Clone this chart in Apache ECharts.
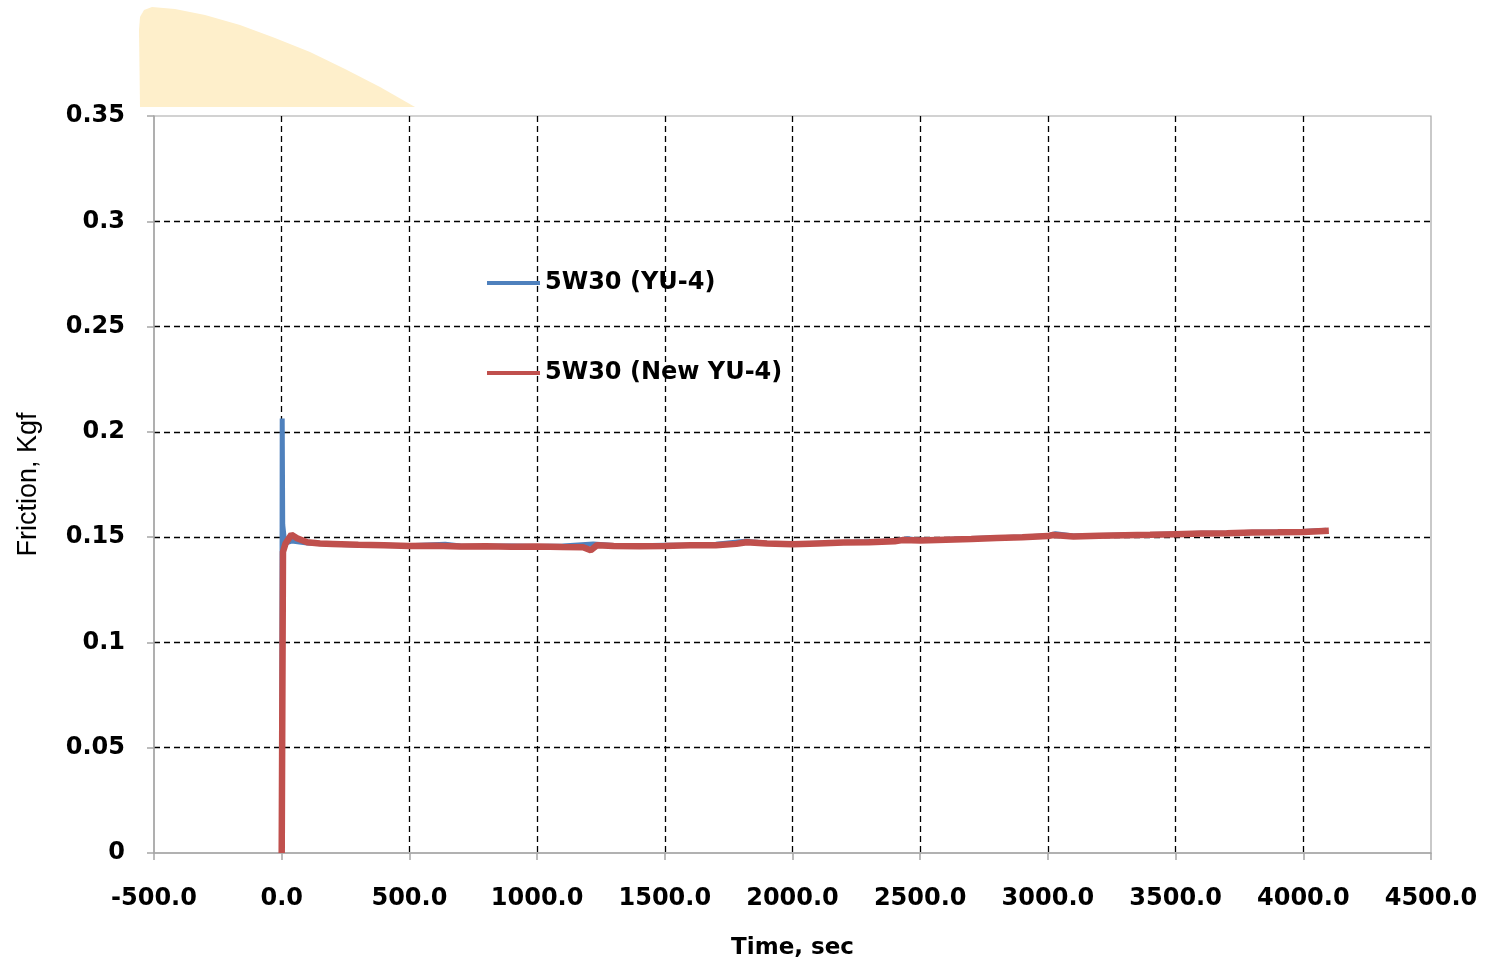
<!DOCTYPE html>
<html>
<head>
<meta charset="utf-8">
<script src="https://cdn.jsdelivr.net/npm/echarts@6/dist/echarts.min.js"></script>
<style>
  html, body { margin: 0; padding: 0; background: #ffffff; }
  #chart { width: 1486px; height: 962px; }
</style>
</head>
<body>
<div id="chart"></div>
<script>
// ---- data ----
const seriesNames = ['5W30 (YU-4)', '5W30 (New YU-4)'];

const blueTime = [0, 2, 4, 12, 40, 100, 200, 300, 400, 500, 640, 700, 800, 900, 1000, 1100, 1220, 1300, 1400, 1500, 1600, 1700, 1815, 1900, 2000, 2100, 2200, 2300, 2400, 2450, 2500, 2600, 2700, 2800, 2900, 3000, 3030, 3100, 3200, 3300, 3400, 3500, 3600, 3700, 3800, 3900, 4000, 4090];
const blueFriction = [0, 0.2063, 0.1560, 0.1470, 0.1482, 0.1472, 0.1466, 0.1463, 0.1461, 0.1459, 0.1466, 0.1458, 0.1457, 0.1458, 0.1456, 0.1458, 0.1468, 0.1460, 0.1459, 0.1461, 0.1463, 0.1466, 0.1480, 0.1471, 0.1468, 0.1471, 0.1474, 0.1478, 0.1482, 0.1492, 0.1485, 0.1489, 0.1493, 0.1497, 0.1501, 0.1507, 0.1516, 0.1505, 0.1508, 0.1510, 0.1512, 0.1515, 0.1518, 0.1520, 0.1523, 0.1525, 0.1527, 0.1533];

const redTime = [0, 5, 15, 38, 60, 100, 150, 200, 300, 400, 500, 600, 700, 800, 900, 1000, 1100, 1180, 1210, 1235, 1300, 1400, 1500, 1600, 1700, 1780, 1820, 1900, 2000, 2100, 2200, 2300, 2400, 2430, 2500, 2600, 2700, 2800, 2900, 3000, 3020, 3100, 3200, 3300, 3400, 3500, 3600, 3700, 3800, 3900, 4000, 4100];
const redFriction = [0, 0.1430, 0.1470, 0.1512, 0.1495, 0.1476, 0.1470, 0.1468, 0.1464, 0.1461, 0.1458, 0.1459, 0.1455, 0.1457, 0.1454, 0.1455, 0.1453, 0.1452, 0.1438, 0.1462, 0.1458, 0.1457, 0.1458, 0.1461, 0.1462, 0.1468, 0.1476, 0.1470, 0.1466, 0.1470, 0.1474, 0.1476, 0.1480, 0.1486, 0.1484, 0.1488, 0.1491, 0.1496, 0.1499, 0.1505, 0.1510, 0.1503, 0.1507, 0.1509, 0.1511, 0.1514, 0.1517, 0.1519, 0.1522, 0.1523, 0.1525, 0.1530];

const xTickLabels = ['-500.0', '0.0', '500.0', '1000.0', '1500.0', '2000.0', '2500.0', '3000.0', '3500.0', '4000.0', '4500.0'];
const yTickLabels = ['0', '0.05', '0.1', '0.15', '0.2', '0.25', '0.3', '0.35'];

const xAxisTitle = 'Time, sec';
const yAxisTitle = 'Friction, Kgf';

// ---- chart ----
const labelFont = 'DejaVu Sans';
const pair = (xs, ys) => xs.map((x, i) => [x, ys[i]]);

const chart = echarts.init(document.getElementById('chart'), null, { renderer: 'canvas' });

chart.setOption({
  backgroundColor: '#ffffff',
  animation: false,
  graphic: [{
    type: 'polygon',
    z: -10,
    shape: {
      points: [[140, 107], [139, 30], [140, 17], [144, 10], [152, 7], [175, 9], [205, 15], [240, 25], [275, 38], [310, 52], [345, 69], [380, 87], [415, 107]]
    },
    style: { fill: '#FEEFCB' }
  }],
  grid: {
    left: 154, right: 55, top: 116, bottom: 109,
    containLabel: false, outerBoundsMode: 'none',
    show: true, borderColor: '#a6a6a6', borderWidth: 1.2, backgroundColor: 'transparent'
  },
  legend: {
    orient: 'vertical',
    left: 487, top: 271, padding: 0,
    itemWidth: 53, itemHeight: 4, itemGap: 66,
    icon: 'rect',
    textStyle: { fontFamily: labelFont, fontWeight: 'bold', fontSize: 24, color: '#000' },
    data: seriesNames
  },
  xAxis: {
    type: 'value',
    min: -500, max: 4500, interval: 500,
    name: xAxisTitle,
    nameLocation: 'middle',
    nameGap: 84,
    nameTextStyle: { fontFamily: labelFont, fontWeight: 'bold', fontSize: 23, color: '#000', verticalAlign: 'top' },
    axisLine: { onZero: false, lineStyle: { color: '#a6a6a6', width: 1.5 } },
    axisTick: { show: true, length: 7, lineStyle: { color: '#a6a6a6', width: 1.5 } },
    axisLabel: {
      margin: 34,
      fontFamily: labelFont, fontWeight: 'bold', fontSize: 24, color: '#000',
      formatter: (v) => xTickLabels[Math.round((v + 500) / 500)]
    },
    splitLine: { show: true, showMinLine: false, showMaxLine: false, lineStyle: { color: '#000', type: [6, 4], width: 1.3 } }
  },
  yAxis: {
    type: 'value',
    min: 0, max: 0.35, interval: 0.05,
    name: yAxisTitle,
    nameLocation: 'middle',
    nameGap: 112,
    nameRotate: 90,
    nameTextStyle: { fontFamily: 'Liberation Sans Narrow, Liberation Sans', fontSize: 27, color: '#000' },
    axisLine: { show: true, onZero: false, lineStyle: { color: '#a6a6a6', width: 1.5 } },
    axisTick: { show: true, length: 7, lineStyle: { color: '#a6a6a6', width: 1.5 } },
    axisLabel: {
      margin: 29,
      fontFamily: labelFont, fontWeight: 'bold', fontSize: 24, color: '#000',
      formatter: (v) => yTickLabels[Math.round(v / 0.05)]
    },
    splitLine: { show: true, showMinLine: false, showMaxLine: false, lineStyle: { color: '#000', type: [6, 4], width: 1.3 } }
  },
  series: [
    {
      name: seriesNames[0],
      type: 'line',
      data: pair(blueTime, blueFriction),
      showSymbol: false,
      symbol: 'none',
      color: '#4F81BD',
      lineStyle: { color: '#4F81BD', width: 5 },
      z: 2
    },
    {
      name: seriesNames[1],
      type: 'line',
      data: pair(redTime, redFriction),
      showSymbol: false,
      symbol: 'none',
      color: '#C0504D',
      lineStyle: { color: '#C0504D', width: 6.5 },
      z: 3
    }
  ]
});
</script>
</body>
</html>
